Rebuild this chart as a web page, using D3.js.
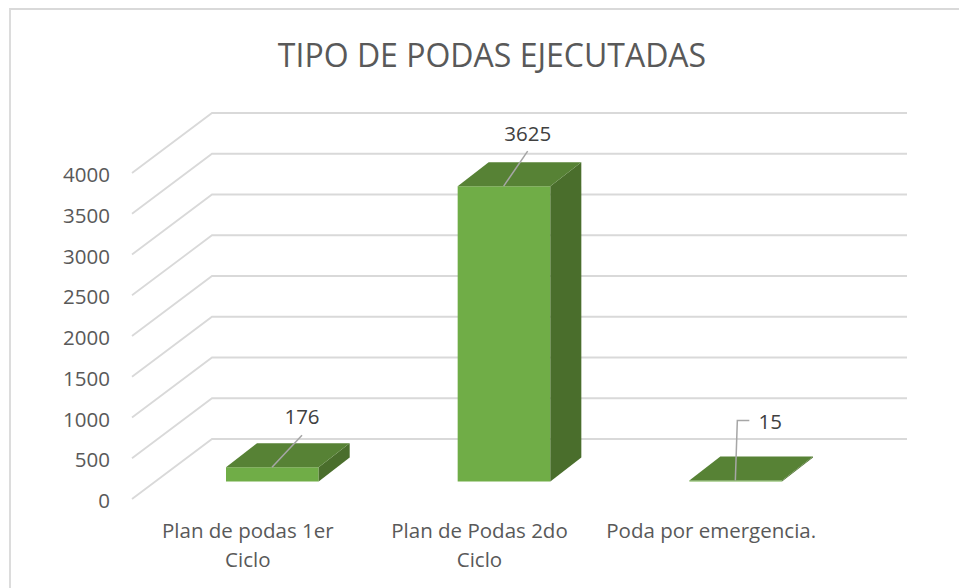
<!DOCTYPE html>
<html><head><meta charset="utf-8">
<script src="https://cdn.jsdelivr.net/npm/d3@7"></script>
<style>html,body{margin:0;background:#fff}svg{display:block}text{font-family:"Open Sans","Noto Sans",sans-serif}</style>
</head><body><svg id="c" width="959" height="588"></svg>
<script>
const titleText = "TIPO DE PODAS EJECUTADAS";
const categories = ["Plan de podas 1er Ciclo", "Plan de Podas 2do Ciclo", "Poda por emergencia."];
const categoryLines = [["Plan de podas 1er","Ciclo"],["Plan de Podas 2do","Ciclo"],["Poda por emergencia."]];
const values = [176, 3625, 15];
const tickValues = [0,500,1000,1500,2000,2500,3000,3500,4000];

const svg = d3.select("#c");
svg.append("path").attr("d","M10 588V9H959").attr("fill","none").attr("stroke","#d9d9d9").attr("stroke-width",1.8);
svg.append("text").attr("x",492).attr("y",67).attr("text-anchor","middle").attr("font-size",32).attr("fill","#595959").text(titleText);

const x = d3.scaleBand().domain(categories).range([132,827]).paddingInner(0.6).paddingOuter(0.3);
const h = d3.scaleLinear().domain([0,4000]).range([0,326]);
const floorFront = 499, wallDx = 80, wallDy = 60, barBase = 481.6, barDx = 31, barDy = 24, barShift = 24.5;

const grid = svg.append("g").attr("fill","none").attr("stroke","#d9d9d9").attr("stroke-width",1.8);
tickValues.forEach(v=>{
  const y0 = floorFront - h(v);
  grid.append("path").attr("d",d3.line()([[132,y0],[132+wallDx,y0-wallDy],[907,y0-wallDy]]));
});
svg.append("g").selectAll("text").data(tickValues).join("text")
  .attr("x",110).attr("y",v=>floorFront-h(v)+9).attr("text-anchor","end")
  .attr("font-size",20.5).attr("fill","#595959").text(d=>d);

const bars = svg.append("g").selectAll("g").data(categories).join("g");
bars.each(function(c,i){
  const g = d3.select(this), l = x(c)+barShift, r = l+x.bandwidth(), yT = barBase-h(values[i]), b = barBase;
  const line = d3.line();
  g.append("path").attr("d",line([[l,b],[r,b],[r,yT],[l,yT]])+"Z").attr("fill","#70ad47");
  g.append("path").attr("d",line([[r,b],[r+barDx,b-barDy],[r+barDx,yT-barDy],[r,yT]])+"Z").attr("fill","#4a6e2c");
  g.append("path").attr("d",line([[l,yT],[r,yT],[r+barDx,yT-barDy],[l+barDx,yT-barDy]])+"Z").attr("fill","#578235");
});

// leader lines and value labels
const leaderGeom = [
  {dx:46,to:[[0,0],[30,-32]],lx:30,ly:-43},
  {dx:46,to:[[0,0],[24,-35]],lx:24,ly:-45},
  {dx:46,to:[[0,0],[2,-60],[14,-60]],lx:35,ly:-51}
];
bars.each(function(c,i){
  const g=d3.select(this), l=x(c)+barShift, yT=barBase-h(values[i]), m=leaderGeom[i], ax=l+m.dx;
  g.append("path").attr("d",d3.line()(m.to.map(p=>[ax+p[0],yT+p[1]]))).attr("fill","none").attr("stroke","#a6a6a6").attr("stroke-width",1.5);
  g.append("text").attr("x",ax+m.lx).attr("y",yT+m.ly).attr("text-anchor","middle").attr("font-size",20.5).attr("fill","#404040").text(values[i]);
});

svg.append("g").selectAll("text").data(categories).join("text")
  .attr("font-size",20.5).attr("fill","#595959").attr("text-anchor","middle")
  .each(function(c,i){
    d3.select(this).selectAll("tspan").data(categoryLines[i]).join("tspan")
      .attr("x",x(c)+x.bandwidth()/2).attr("y",(d,j)=>538+j*29).text(d=>d);
  });
</script></body></html>
